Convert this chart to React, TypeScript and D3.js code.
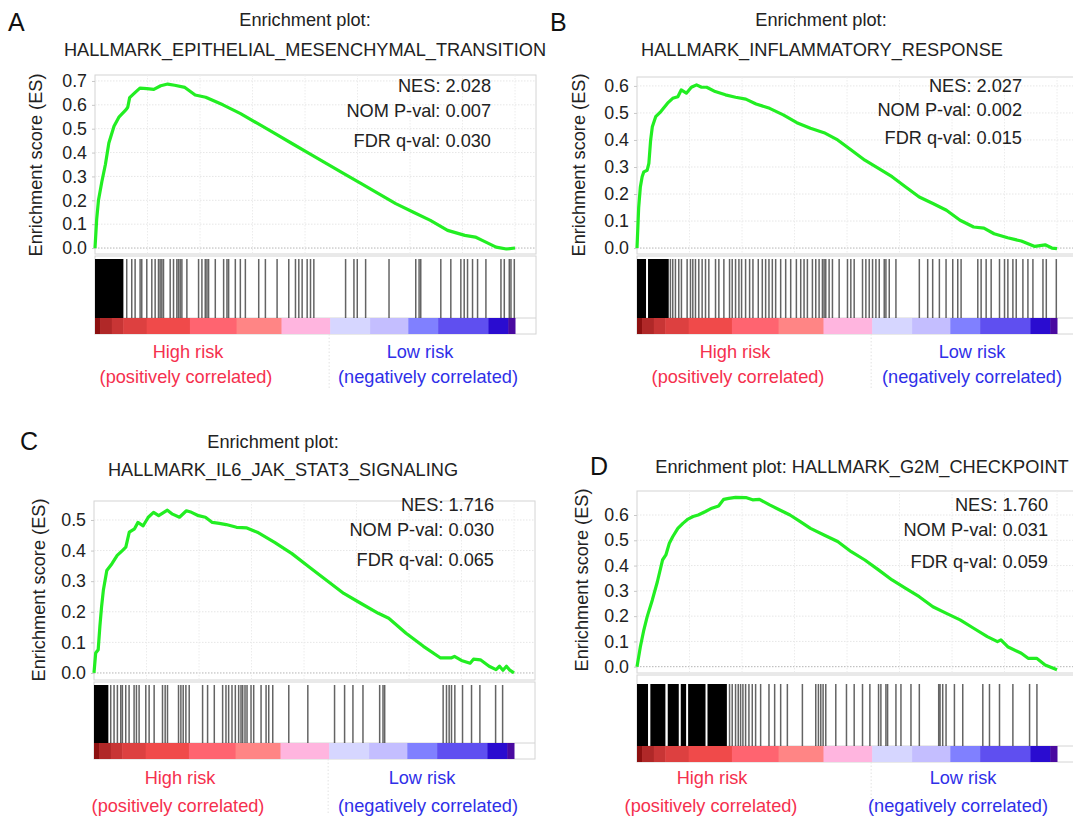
import React, { useEffect, useRef } from 'react';
import * as d3 from 'd3';

// ranked list length and x extent of the plot (GSEA leaves a little room on the right)
const N_RANKS = 20000;
const X_MAX = 21000;
const gridRanks = [2500, 5000, 7500, 10000, 12500, 15000, 17500, 20000];
const zeroCross = 11150;

// running enrichment score, [rank, ES]
const esA = [[0, 0], [80, 0.12], [165, 0.2], [330, 0.28], [495, 0.35], [660, 0.44], [905, 0.51], [1150, 0.55], [1480, 0.58], [1560, 0.59], [1650, 0.63], [1890, 0.65], [2140, 0.67], [2470, 0.668], [2800, 0.665], [3130, 0.68], [3460, 0.687], [3790, 0.682], [4280, 0.673], [4770, 0.641], [5270, 0.632], [6090, 0.6], [6910, 0.564], [7740, 0.522], [8560, 0.48], [9380, 0.438], [10210, 0.396], [11030, 0.354], [11850, 0.312], [12680, 0.27], [13500, 0.228], [14320, 0.186], [15140, 0.151], [15970, 0.116], [16790, 0.074], [17610, 0.053], [18110, 0.046], [18440, 0.032], [19100, 0.004], [19590, -0.004], [20000, 0]];
const esB = [[0, 0], [80, 0.15], [160, 0.226], [245, 0.264], [325, 0.282], [485, 0.288], [565, 0.313], [650, 0.4], [730, 0.449], [890, 0.486], [1135, 0.505], [1455, 0.536], [1700, 0.554], [1945, 0.56], [2105, 0.585], [2350, 0.573], [2590, 0.595], [2835, 0.604], [3075, 0.595], [3320, 0.595], [3725, 0.579], [4210, 0.567], [4695, 0.558], [5180, 0.551], [5670, 0.533], [6315, 0.517], [6965, 0.493], [7610, 0.464], [8260, 0.443], [8905, 0.427], [9555, 0.4], [10200, 0.363], [10850, 0.325], [11500, 0.295], [12145, 0.264], [12795, 0.226], [13440, 0.189], [14090, 0.165], [14735, 0.14], [15385, 0.103], [16030, 0.078], [16520, 0.074], [17005, 0.053], [17650, 0.038], [18300, 0.026], [18945, 0.006], [19435, 0.012], [19755, 0], [20000, -0.002]];
const esC = [[0, 0], [80, 0.065], [200, 0.076], [280, 0.152], [360, 0.216], [445, 0.27], [610, 0.335], [855, 0.357], [1105, 0.384], [1350, 0.4], [1515, 0.411], [1680, 0.46], [1930, 0.471], [2090, 0.492], [2340, 0.481], [2585, 0.509], [2835, 0.525], [3080, 0.514], [3495, 0.532], [3740, 0.519], [4070, 0.509], [4400, 0.53], [4645, 0.525], [4975, 0.514], [5305, 0.509], [5635, 0.492], [5965, 0.489], [6295, 0.485], [6785, 0.476], [7280, 0.474], [7775, 0.46], [8600, 0.427], [9425, 0.39], [10245, 0.346], [11070, 0.303], [11895, 0.26], [12720, 0.227], [13540, 0.195], [14035, 0.179], [14860, 0.13], [15685, 0.087], [16505, 0.049], [17000, 0.049], [17165, 0.054], [17495, 0.041], [17910, 0.032], [18070, 0.045], [18400, 0.043], [18815, 0.022], [19145, 0.011], [19310, 0.022], [19475, 0.009], [19640, 0.022], [19800, 0.009], [20000, 0]];
const esD = [[0, 0], [160, 0.079], [325, 0.145], [485, 0.198], [730, 0.264], [970, 0.336], [1215, 0.422], [1375, 0.442], [1540, 0.488], [1700, 0.514], [1945, 0.547], [2185, 0.567], [2430, 0.584], [2670, 0.594], [2915, 0.6], [3240, 0.613], [3565, 0.627], [3885, 0.636], [4130, 0.662], [4370, 0.666], [4695, 0.67], [5180, 0.669], [5505, 0.66], [5830, 0.662], [6315, 0.64], [6800, 0.62], [7285, 0.6], [7775, 0.574], [8260, 0.547], [8905, 0.521], [9555, 0.495], [10200, 0.455], [10850, 0.422], [11500, 0.383], [12145, 0.343], [12795, 0.31], [13440, 0.277], [14090, 0.237], [14735, 0.211], [15385, 0.185], [16030, 0.152], [16680, 0.119], [17165, 0.099], [17330, 0.106], [17650, 0.079], [18300, 0.053], [18625, 0.033], [19030, 0.033], [19435, 0.007], [20000, -0.012]];

// gene set members in the ranked list: dense blocks [from, to] and single hits
const blocksA = [[0, 1352]];
const hitsA = [1511, 1750, 1910, 2148, 2227, 2466, 2705, 2864, 3023, 3102, 3182, 3262, 3580, 3739, 3898, 3977, 4057, 4137, 4375, 4932, 5091, 5250, 5330, 5409, 5728, 6125, 6284, 6364, 6682, 6921, 7160, 7796, 8114, 8671, 9227, 9546, 9705, 9864, 10103, 10262, 10421, 11933, 12330, 12489, 12887, 14001, 15274, 15433, 15512, 16467, 16944, 17421, 17581, 17740, 17978, 18217, 18615, 19331, 19490, 19728, 19808, 19967];
const blocksB = [[0, 430], [525, 1511]];
const hitsB = [1591, 1702, 1830, 1989, 2116, 2387, 2546, 2657, 2784, 2943, 3102, 3262, 3421, 3739, 3898, 4137, 4407, 4534, 4693, 4853, 4980, 5171, 5362, 5521, 5775, 5966, 6125, 6284, 6444, 6603, 6841, 7080, 7319, 7589, 7796, 7955, 8114, 8353, 8512, 8671, 8830, 8910, 8989, 9148, 9307, 9626, 10023, 10182, 10342, 10739, 10898, 11058, 11217, 11376, 11535, 11773, 11853, 12012, 12330, 13444, 13842, 14080, 14399, 14717, 15035, 15274, 15433, 16228, 16387, 16626, 16865, 17262, 17501, 17660, 17899, 18058, 18376, 18615, 18853, 19331, 19490, 19967];
const blocksC = [[0, 684]];
const hitsC = [796, 955, 1114, 1273, 1352, 1511, 1671, 1909, 2021, 2148, 2466, 2625, 2864, 3262, 3389, 3500, 4025, 4137, 4248, 4375, 4534, 5171, 5409, 5728, 6125, 6284, 6412, 6571, 6730, 6889, 7000, 7080, 7191, 7287, 7477, 7605, 7955, 8194, 8321, 8512, 9275, 10182, 11455, 11933, 12330, 12808, 13603, 13762, 13842, 16626, 16785, 16912, 17024, 17183, 17549, 17978, 18376, 19124, 19458];
const blocksD = [[0, 525], [636, 1352], [1464, 1989], [2084, 2339], [2434, 3262], [3357, 4280]];
const hitsD = [4407, 4534, 4693, 4821, 4932, 5043, 5171, 5330, 5489, 5648, 5887, 6284, 6555, 6841, 7160, 7876, 8512, 8639, 8751, 8862, 8989, 9466, 9975, 10342, 10739, 11089, 11503, 11614, 11853, 11933, 12330, 12569, 13046, 13444, 14367, 14431, 14558, 14717, 15115, 15512, 16467, 16785, 17262, 17899, 18694, 19044];

// ranked list metric colour strip (fraction of list where each colour ends)
const stripEnds = [0.012, 0.04, 0.067, 0.123, 0.226, 0.337, 0.444, 0.56, 0.655, 0.746, 0.817, 0.937, 0.984, 1];
const stripColors = ['#8c1010', '#b02828', '#c83535', '#dd4040', '#f04a4a', '#ff6470', '#ff8585', '#ffb5df', '#d6d6ff', '#c4beff', '#8080ff', '#5f4ff0', '#2a0cd0', '#4a0aa0'];

const titlesA = ['Enrichment plot:', 'HALLMARK_EPITHELIAL_MESENCHYMAL_TRANSITION'];
const titlesB = ['Enrichment plot:', 'HALLMARK_INFLAMMATORY_RESPONSE'];
const titlesC = ['Enrichment plot:', 'HALLMARK_IL6_JAK_STAT3_SIGNALING'];
const titlesD = ['Enrichment plot: HALLMARK_G2M_CHECKPOINT'];

const statsA = ['NES: 2.028', 'NOM P-val: 0.007', 'FDR q-val: 0.030'];
const statsB = ['NES: 2.027', 'NOM P-val: 0.002', 'FDR q-val: 0.015'];
const statsC = ['NES: 1.716', 'NOM P-val: 0.030', 'FDR q-val: 0.065'];
const statsD = ['NES: 1.760', 'NOM P-val: 0.031', 'FDR q-val: 0.059'];

const ticksA = [0, 0.1, 0.2, 0.3, 0.4, 0.5, 0.6, 0.7];
const ticksB = [0, 0.1, 0.2, 0.3, 0.4, 0.5, 0.6];
const ticksC = [0, 0.1, 0.2, 0.3, 0.4, 0.5];
const ticksD = [0, 0.1, 0.2, 0.3, 0.4, 0.5, 0.6];

const FONT = '"Liberation Sans", Arial, Helvetica, sans-serif';
const FS = 18.2;

const panels = [
  {
    letter: 'A', titles: titlesA, stats: statsA, es: esA, hits: hitsA, blocks: blocksA, ticks: ticksA, yDomain: [-0.025, 0.725],
    box: { left: 95, width: 441, esTop: 75, esBottom: 254, barTop: 259, stripTop: 318, stripBottom: 334 },
    text: { letterX: 8, letterY: 31, titleX: [305, 305], titleY: [26, 56], statsX: 491, statsY: [92, 117, 147], ylabelX: 36, ylabelY: 165, lowX: 420, highX: 188, negX: 428, posX: 186, riskY: [358, 383] },
  },
  {
    letter: 'B', titles: titlesB, stats: statsB, es: esB, hits: hitsB, blocks: blocksB, ticks: ticksB, yDomain: [-0.022, 0.633],
    box: { left: 637, width: 441, esTop: 77, esBottom: 254, barTop: 259, stripTop: 318, stripBottom: 334 },
    text: { letterX: 550, letterY: 31, titleX: [821, 822], titleY: [26, 56], statsX: 1022, statsY: [92, 116, 144], ylabelX: 579, ylabelY: 165, lowX: 972, highX: 735, negX: 972, posX: 738, riskY: [358, 383] },
  },
  {
    letter: 'C', titles: titlesC, stats: statsC, es: esC, hits: hitsC, blocks: blocksC, ticks: ticksC, yDomain: [-0.023, 0.562],
    box: { left: 94, width: 441, esTop: 501, esBottom: 680, barTop: 685, stripTop: 743, stripBottom: 759 },
    text: { letterX: 20, letterY: 450, titleX: [273, 283], titleY: [448, 476], statsX: 494, statsY: [511, 536, 566], ylabelX: 39, ylabelY: 590, lowX: 422, highX: 180, negX: 428, posX: 178, riskY: [784, 812] },
  },
  {
    letter: 'D', titles: titlesD, stats: statsD, es: esD, hits: hitsD, blocks: blocksD, ticks: ticksD, yDomain: [-0.025, 0.695],
    box: { left: 637, width: 441, esTop: 491, esBottom: 673, barTop: 684, stripTop: 746, stripBottom: 762 },
    text: { letterX: 590, letterY: 475, titleX: [862], titleY: [473], statsX: 1048, statsY: [511, 536, 568], ylabelX: 582, ylabelY: 580, lowX: 963, highX: 712, negX: 958, posX: 711, riskY: [784, 812] },
  },
];

const App = () => {
  const ref = useRef<SVGSVGElement>(null);

  useEffect(() => {
    const svg = d3.select(ref.current);
    svg.selectAll('*').remove();
    svg.append('rect').attr('width', 1073).attr('height', 820).attr('fill', '#fff');

    panels.forEach(p => {
      const b = p.box;
      const t = p.text;
      const g = svg.append('g');
      const x = d3.scaleLinear().domain([0, X_MAX]).range([b.left, b.left + b.width]);
      const y = d3.scaleLinear().domain(p.yDomain).range([b.esBottom, b.esTop]);

      // ES panel frame and grid
      g.append('rect')
        .attr('x', b.left).attr('y', b.esTop)
        .attr('width', b.width).attr('height', b.esBottom - b.esTop)
        .attr('fill', '#fff').attr('stroke', '#d4d4d4');

      g.selectAll('.hgrid').data(p.ticks).enter().append('line')
        .attr('x1', b.left).attr('x2', b.left + b.width)
        .attr('y1', d => y(d)).attr('y2', d => y(d))
        .attr('stroke', d => (d === 0 ? '#b4b4b4' : '#e6e6e6'))
        .attr('stroke-dasharray', '1.5,1.5');

      g.selectAll('.vgrid').data(gridRanks).enter().append('line')
        .attr('x1', d => x(d)).attr('x2', d => x(d))
        .attr('y1', b.esTop).attr('y2', b.esBottom)
        .attr('stroke', '#ececec')
        .attr('stroke-dasharray', '1.5,1.5');

      // y axis
      const axis = g.append('g')
        .attr('transform', `translate(${b.left},0)`)
        .call(d3.axisLeft(y).tickValues(p.ticks).tickFormat(d3.format('.1f')).tickSize(3).tickPadding(5));
      axis.select('.domain').remove();
      axis.selectAll('line').attr('stroke', '#c8c8c8');
      axis.selectAll('text')
        .attr('font-family', FONT).attr('font-size', 17.8).attr('fill', '#222');

      g.append('text')
        .attr('transform', `translate(${t.ylabelX},${t.ylabelY}) rotate(-90)`)
        .attr('text-anchor', 'middle').attr('dy', '0.35em')
        .attr('font-family', FONT).attr('font-size', FS).attr('fill', '#222')
        .text('Enrichment score (ES)');

      // running enrichment score
      const line = d3.line<number[]>()
        .x(d => x(d[0] * N_RANKS / 20000))
        .y(d => y(d[1]));
      g.append('path')
        .datum(p.es)
        .attr('d', line)
        .attr('fill', 'none')
        .attr('stroke', '#22ee22')
        .attr('stroke-width', 3.2)
        .attr('stroke-linejoin', 'round');

      // hit frame
      g.append('rect')
        .attr('x', b.left).attr('y', b.esBottom + 2)
        .attr('width', b.width).attr('height', b.stripBottom - b.esBottom - 2)
        .attr('fill', '#fff').attr('stroke', '#d4d4d4');
      g.append('line')
        .attr('x1', b.left).attr('x2', b.left + b.width)
        .attr('y1', b.stripTop).attr('y2', b.stripTop)
        .attr('stroke', '#d4d4d4');

      g.selectAll('.block').data(p.blocks).enter().append('rect')
        .attr('x', d => x(d[0])).attr('y', b.barTop)
        .attr('width', d => x(d[1]) - x(d[0])).attr('height', b.stripTop - b.barTop)
        .attr('fill', '#000');

      g.selectAll('.hit').data(p.hits).enter().append('line')
        .attr('x1', d => x(d)).attr('x2', d => x(d))
        .attr('y1', b.barTop).attr('y2', b.stripTop)
        .attr('stroke', '#111').attr('stroke-opacity', 0.65)
        .attr('stroke-width', 1.5);

      // ranked list colour strip
      const starts = [0, ...stripEnds.slice(0, -1)];
      g.selectAll('.strip').data(stripColors).enter().append('rect')
        .attr('x', (_, i) => x(starts[i] * N_RANKS))
        .attr('y', b.stripTop)
        .attr('width', (_, i) => x(stripEnds[i] * N_RANKS) - x(starts[i] * N_RANKS) + 0.5)
        .attr('height', b.stripBottom - b.stripTop)
        .attr('fill', d => d);

      // zero cross
      g.append('line')
        .attr('x1', x(zeroCross)).attr('x2', x(zeroCross))
        .attr('y1', b.stripBottom).attr('y2', b.stripBottom + 55)
        .attr('stroke', '#e2e2e2').attr('stroke-dasharray', '1.5,2');

      // titles, letter, stats
      g.append('text')
        .attr('x', t.letterX).attr('y', t.letterY)
        .attr('font-family', FONT).attr('font-size', 25).attr('fill', '#111')
        .text(p.letter);

      p.titles.forEach((s, i) => {
        g.append('text')
          .attr('x', t.titleX[i]).attr('y', t.titleY[i])
          .attr('text-anchor', 'middle')
          .attr('font-family', FONT).attr('font-size', FS).attr('fill', '#222')
          .text(s);
      });

      p.stats.forEach((s, i) => {
        g.append('text')
          .attr('x', t.statsX).attr('y', t.statsY[i])
          .attr('text-anchor', 'end')
          .attr('font-family', FONT).attr('font-size', FS).attr('fill', '#222')
          .text(s);
      });

      const red = '#f5304e';
      const blue = '#2f2fe8';
      const labels = [
        { x: t.highX, y: t.riskY[0], s: 'High risk', c: red },
        { x: t.posX, y: t.riskY[1], s: '(positively correlated)', c: red },
        { x: t.lowX, y: t.riskY[0], s: 'Low risk', c: blue },
        { x: t.negX, y: t.riskY[1], s: '(negatively correlated)', c: blue },
      ];
      labels.forEach(l => {
        g.append('text')
          .attr('x', l.x).attr('y', l.y)
          .attr('text-anchor', 'middle')
          .attr('font-family', FONT).attr('font-size', FS).attr('fill', l.c)
          .text(l.s);
      });
    });
  }, []);

  return (
    <svg
      ref={ref}
      width={1073}
      height={820}
      style={{ position: 'absolute', left: 0, top: 0, display: 'block' }}
    />
  );
};

export default App;
